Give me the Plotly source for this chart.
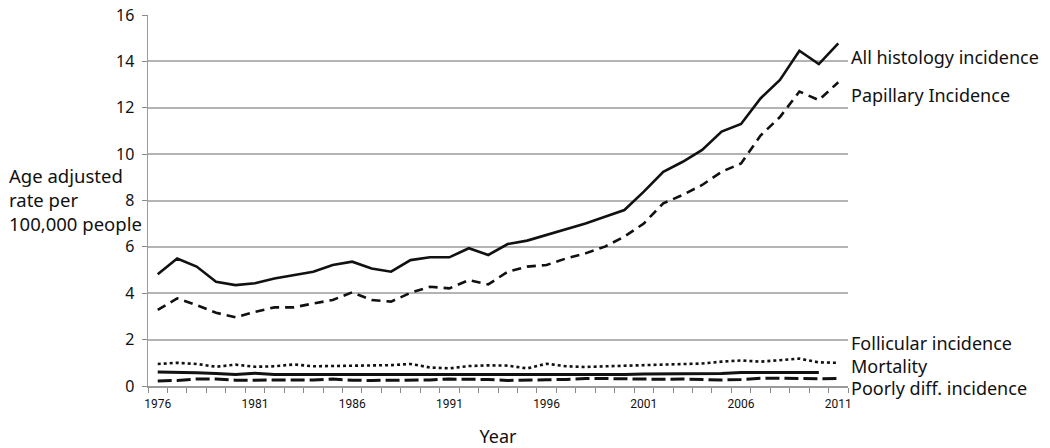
import plotly.graph_objects as go

years = list(range(1976, 2012))
tick_years = [1976, 1981, 1986, 1991, 1996, 2001, 2006, 2011]

all_histology = [4.82, 5.50, 5.15, 4.50, 4.35, 4.43, 4.64, 4.79, 4.93, 5.22,
                 5.36, 5.07, 4.93, 5.43, 5.55, 5.55, 5.94, 5.65, 6.12, 6.27,
                 6.51, 6.78, 7.01, 7.30, 7.59, 8.38, 9.24, 9.67, 10.18, 10.97,
                 11.30, 12.40, 13.20, 14.46, 13.88, 14.78]
papillary = [3.28, 3.78, 3.49, 3.16, 2.96, 3.20, 3.39, 3.39, 3.56, 3.71,
             4.04, 3.71, 3.64, 4.02, 4.28, 4.21, 4.57, 4.38, 4.93, 5.15,
             5.22, 5.50, 5.72, 6.01, 6.44, 7.01, 7.88, 8.24, 8.67, 9.24,
             9.60, 10.80, 11.60, 12.70, 12.33, 13.10]
follicular = [0.95, 1.00, 0.95, 0.83, 0.92, 0.83, 0.85, 0.93, 0.85, 0.86,
              0.88, 0.91, 0.90, 0.95, 0.80, 0.76, 0.86, 0.89, 0.88, 0.76,
              0.96, 0.85, 0.82, 0.85, 0.88, 0.90, 0.91, 0.94, 0.97, 1.05,
              1.10, 1.05, 1.12, 1.18, 1.02, 1.00]
mortality = [0.60, 0.60, 0.57, 0.54, 0.50, 0.55, 0.50, 0.50, 0.50, 0.50,
             0.50, 0.50, 0.50, 0.50, 0.50, 0.50, 0.50, 0.50, 0.48, 0.50,
             0.50, 0.50, 0.50, 0.50, 0.50, 0.52, 0.52, 0.52, 0.52, 0.54,
             0.58, 0.58, 0.58, 0.58, 0.58, None]
poorly_diff = [0.22, 0.24, 0.30, 0.30, 0.25, 0.25, 0.24, 0.24, 0.26, 0.30,
               0.25, 0.24, 0.24, 0.24, 0.26, 0.30, 0.30, 0.28, 0.24, 0.24,
               0.27, 0.28, 0.32, 0.32, 0.30, 0.30, 0.29, 0.30, 0.28, 0.26,
               0.28, 0.33, 0.34, 0.32, 0.31, 0.32]

labels = ["All histology incidence", "Papillary Incidence", "Follicular incidence",
          "Mortality", "Poorly diff. incidence"]
label_y = [14.2, 12.55, 1.85, 0.86, -0.09]
Y_MAX = 16

FONT = "Noto Sans"
INK = "#111111"

fig = go.Figure()
fig.add_trace(go.Scatter(x=years, y=all_histology, mode="lines",
                         line=dict(color=INK, width=2.6), name=labels[0]))
fig.add_trace(go.Scatter(x=years, y=papillary, mode="lines",
                         line=dict(color=INK, width=2.6, dash="9px,6px"), name=labels[1]))
fig.add_trace(go.Scatter(x=years, y=follicular, mode="lines",
                         line=dict(color=INK, width=2.6, dash="3px,3px"), name=labels[2]))
fig.add_trace(go.Scatter(x=years, y=mortality, mode="lines",
                         line=dict(color=INK, width=3), name=labels[3]))
fig.add_trace(go.Scatter(x=years, y=poorly_diff, mode="lines",
                         line=dict(color=INK, width=3, dash="14px,5px"), name=labels[4]))

for txt, yv in zip(labels, label_y):
    fig.add_annotation(x=1.0, xref="paper", y=yv / Y_MAX, yref="paper", text=txt,
                       showarrow=False, xanchor="left", yanchor="middle", xshift=1,
                       font=dict(family=FONT, size=18, color=INK))

fig.add_annotation(x=0, xref="paper", y=8.06 / Y_MAX, yref="paper", xshift=-141,
                   text="Age adjusted<br>rate per<br>100,000 people",
                   showarrow=False, xanchor="left", yanchor="middle", align="left",
                   font=dict(family=FONT, size=18.5, color=INK))

fig.update_layout(
    width=1050, height=448,
    margin=dict(l=148, r=202, t=15, b=62, autoexpand=False),
    paper_bgcolor="white", plot_bgcolor="white",
    showlegend=False,
    font=dict(family=FONT, color=INK),
    xaxis=dict(
        range=[1975.5, 2011.5],
        tickmode="array", tickvals=tick_years, ticktext=[str(y) for y in tick_years],
        ticks="", showgrid=False, zeroline=False,
        showline=True, linecolor="#9a9a9a", linewidth=1.5,
        ticklabelstandoff=6,
        tickfont=dict(family="Roboto", size=12, color=INK),
        minor=dict(ticks="outside", tick0=1975.5, dtick=1, ticklen=5,
                   tickcolor="#8a8a8a", tickwidth=1, showgrid=False),
        title=dict(text="Year", font=dict(family=FONT, size=18, color=INK), standoff=20),
    ),
    yaxis=dict(
        range=[0, Y_MAX], dtick=2, tick0=0,
        ticks="outside", ticklen=5, tickcolor="#8a8a8a",
        showgrid=True, gridcolor="#b4b4b4", gridwidth=2,
        zeroline=False, showline=True, linecolor="#9a9a9a", linewidth=1.5,
        ticklabelstandoff=4,
        tickfont=dict(family=FONT, size=16, color=INK),
    ),
)

fig.write_html("out.html",
               config={"displayModeBar": False, "staticPlot": True},
               post_script="document.body.style.margin='0';document.body.style.overflow='hidden';")
